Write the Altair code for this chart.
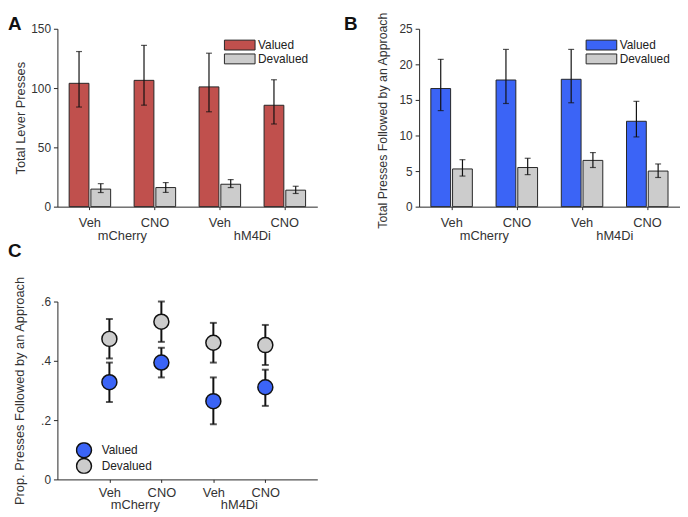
import altair as alt
import pandas as pd

# ---------------- data ----------------
groups = ["mCherry", "mCherry", "hM4Di", "hM4Di"]
conds = ["Veh", "CNO", "Veh", "CNO"]
keys = [g + " " + c for g, c in zip(groups, conds)]
series = ["Valued", "Devalued"]

# Panel A: total lever presses
a_valued = [104, 106.5, 101, 85.5]
a_valued_lo = [84, 85.6, 80, 69.7]
a_valued_hi = [130.8, 136, 129.4, 107]
a_deval = [14.8, 16.1, 18.9, 13.9]
a_deval_lo = [11.9, 12.0, 16.1, 11.1]
a_deval_hi = [19.4, 20.3, 22.8, 17.2]

# Panel B: total presses followed by an approach
b_valued = [16.6, 17.8, 17.9, 12.0]
b_valued_lo = [13.5, 14.5, 14.6, 9.8]
b_valued_hi = [20.7, 22.1, 22.1, 14.8]
b_deval = [5.3, 5.5, 6.5, 5.0]
b_deval_lo = [4.3, 4.5, 5.5, 4.1]
b_deval_hi = [6.6, 6.8, 7.6, 6.0]

# Panel C: proportion of presses followed by an approach
c_valued = [0.328, 0.394, 0.264, 0.311]
c_valued_lo = [0.261, 0.344, 0.186, 0.248]
c_valued_hi = [0.394, 0.444, 0.344, 0.370]
c_deval = [0.474, 0.532, 0.461, 0.453]
c_deval_lo = [0.408, 0.464, 0.394, 0.386]
c_deval_hi = [0.541, 0.600, 0.528, 0.521]

group_keys = ["mCherry Veh", "hM4Di Veh"]
group_names = ["mCherry", "hM4Di"]

GRAY = "#CCCCCC"
RED = "#C0504D"
BLUE = "#3B64F6"
INK = "#262626"
FONT = "Liberation Sans"


def make_df(v, vlo, vhi, d, dlo, dhi):
    rows = []
    for i, k in enumerate(keys):
        rows.append(dict(key=k, series="Valued", val=v[i], lo=vlo[i], hi=vhi[i]))
        rows.append(dict(key=k, series="Devalued", val=d[i], lo=dlo[i], hi=dhi[i]))
    return pd.DataFrame(rows)


groups_df = pd.DataFrame({"key": group_keys, "name": group_names})

W = 263
H = 180

label_expr = "split(datum.label, ' ')[1]"

# custom wide rectangle legend symbol
RECT_PATH = "M-2.583,-0.833L2.583,-0.833L2.583,0.833L-2.583,0.833Z"


def bar_panel(df, color, ymax, yvals, title, letter, width, title_y, title_size, letter_x):
    base = alt.Chart(df)
    x_axis = alt.Axis(labelExpr=label_expr, labelAngle=0, tickSize=3,
                      labelPadding=7, labelFontSize=13, grid=False)
    x = alt.X("key:N", sort=keys, title=None,
              scale=alt.Scale(paddingInner=0, paddingOuter=0), axis=x_axis)
    xo = alt.XOffset("series:N", sort=series,
                     scale=alt.Scale(paddingInner=0.09, paddingOuter=0.54))
    y_scale = alt.Scale(domain=[0, ymax], nice=False)
    y_axis = alt.Axis(values=yvals, tickSize=4, labelPadding=3,
                      labelFontSize=12, titleFontSize=title_size,
                      titleFontWeight="normal", titleX=-37,
                      titleY=title_y, titleBaseline="middle", grid=False)
    bars = base.mark_bar(stroke=INK, strokeWidth=1).encode(
        x=x, xOffset=xo,
        y=alt.Y("val:Q", scale=y_scale, title=title, axis=y_axis),
        fill=alt.Fill("series:N", sort=series,
                      scale=alt.Scale(domain=series, range=[color, GRAY]),
                      legend=alt.Legend(title=None, orient="none",
                                        legendX=178, legendY=10,
                                        symbolType=RECT_PATH, symbolSize=144,
                                        symbolStrokeColor=INK,
                                        symbolStrokeWidth=1,
                                        labelOffset=12, labelFontSize=12,
                                        labelColor="#222", rowPadding=-1,
                                        padding=0)),
    )
    rule = base.mark_rule(color="#111", strokeWidth=1.2).encode(
        x=x, xOffset=xo,
        y=alt.Y("lo:Q", scale=y_scale, title=title, axis=y_axis), y2="hi:Q")
    cap_lo = base.mark_tick(color="#111", size=6, thickness=1.2).encode(
        x=x, xOffset=xo, y=alt.Y("lo:Q", scale=y_scale, title=title, axis=y_axis))
    cap_hi = base.mark_tick(color="#111", size=6, thickness=1.2).encode(
        x=x, xOffset=xo, y=alt.Y("hi:Q", scale=y_scale, title=title, axis=y_axis))
    glabels = alt.Chart(groups_df).mark_text(
        baseline="alphabetic", align="center", dx=width / 8, fontSize=13,
        color="#333").encode(
        x=x, y=alt.value(H + 33.5), text="name:N")
    letter_t = alt.Chart(pd.DataFrame({"t": [letter]})).mark_text(
        align="left", baseline="top", fontSize=19, fontWeight="bold",
        color="#111").encode(x=alt.value(letter_x), y=alt.value(-14), text="t:N")
    return alt.layer(bars, rule, cap_lo, cap_hi, glabels, letter_t).properties(
        width=width, height=H)


dfA = make_df(a_valued, a_valued_lo, a_valued_hi, a_deval, a_deval_lo, a_deval_hi)
dfB = make_df(b_valued, b_valued_lo, b_valued_hi, b_deval, b_deval_lo, b_deval_hi)
dfC = make_df(c_valued, c_valued_lo, c_valued_hi, c_deval, c_deval_lo, c_deval_hi)

panelA = bar_panel(dfA, RED, 150, [0, 50, 100, 150], "Total Lever Presses", "A",
                   W, 90, 13, -50)
panelB = bar_panel(dfB, BLUE, 25, [0, 5, 10, 15, 20, 25],
                   "Total Presses Followed by an Approach", "B", 264, 92.5, 12.5, -76)

# Panel C
baseC = alt.Chart(dfC)
xC = alt.X("key:N", sort=keys, title=None,
           scale=alt.Scale(type="point", padding=1),
           axis=alt.Axis(labelExpr=label_expr, labelAngle=0, tickSize=3,
                         labelPadding=4, labelFontSize=13, grid=False))
yC_scale = alt.Scale(domain=[0, 0.6], nice=False)
yC_axis = alt.Axis(values=[0, 0.2, 0.4, 0.6], tickSize=4, labelPadding=3,
                   labelFontSize=12, titleFontSize=13,
                   titleFontWeight="normal", titleX=-38, titleY=90,
                   titleBaseline="middle", grid=False,
                   labelExpr="datum.value == 0 ? '0' : replace(format(datum.value, '.1f'), '0.', '.')")
C_TITLE = "Prop. Presses Followed by an Approach"
ruleC = baseC.mark_rule(color="#111", strokeWidth=2).encode(
    x=xC, y=alt.Y("lo:Q", scale=yC_scale, title=C_TITLE, axis=yC_axis), y2="hi:Q")
capC_lo = baseC.mark_tick(color="#111", size=7, thickness=2).encode(
    x=xC, y=alt.Y("lo:Q", scale=yC_scale, title=C_TITLE, axis=yC_axis))
capC_hi = baseC.mark_tick(color="#111", size=7, thickness=2).encode(
    x=xC, y=alt.Y("hi:Q", scale=yC_scale, title=C_TITLE, axis=yC_axis))
pointsC = baseC.mark_circle(size=230, stroke="#111", strokeWidth=1.5, opacity=1).encode(
    x=xC, y=alt.Y("val:Q", scale=yC_scale, title=C_TITLE, axis=yC_axis),
    fill=alt.Fill("series:N", sort=series,
                  scale=alt.Scale(domain=series, range=[BLUE, GRAY]),
                  legend=alt.Legend(title=None, orient="none", legendX=18.4,
                                    legendY=142.4, symbolType="circle",
                                    symbolSize=230, symbolStrokeColor="#111",
                                    symbolStrokeWidth=1.5, symbolOpacity=1,
                                    labelOffset=9.4, labelFontSize=12,
                                    labelColor="#222", rowPadding=-1,
                                    clipHeight=16, padding=0)),
)
glabelsC = alt.Chart(groups_df).mark_text(
    baseline="alphabetic", align="center", dx=W / 10, fontSize=13,
    color="#333").encode(
    x=xC, y=alt.value(H + 29.5), text="name:N")
letterC = alt.Chart(pd.DataFrame({"t": ["C"]})).mark_text(
    align="left", baseline="top", fontSize=19, fontWeight="bold",
    color="#111").encode(x=alt.value(-50), y=alt.value(-60), text="t:N")
panelC = alt.layer(ruleC, capC_lo, capC_hi, pointsC, glabelsC, letterC).properties(
    width=W, height=H)

chart = alt.concat(panelA, panelB, panelC, columns=2, bounds="flush",
                   spacing={"row": 96, "column": 103}).resolve_scale(
    fill="independent", x="independent", y="independent"
).properties(padding=0).configure(font=FONT).configure_view(stroke=None).configure_axis(
    domainColor=INK, tickColor=INK, labelColor="#333", titleColor="#333",
    labelFont=FONT, titleFont=FONT
).configure_legend(labelFont=FONT)

chart.save("out.html", embed_options={"renderer": "svg", "actions": False})
